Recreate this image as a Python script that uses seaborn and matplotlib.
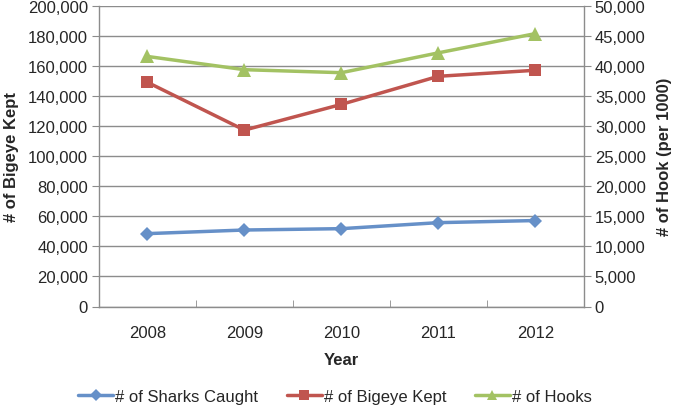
import matplotlib
matplotlib.use("Agg")
import matplotlib.pyplot as plt
import seaborn as sns
import pandas as pd
from matplotlib.ticker import FuncFormatter, MultipleLocator

# values
years = ["2008", "2009", "2010", "2011", "2012"]
sharks_caught = [48500, 50900, 51800, 55800, 57200]
bigeye_kept = [149200, 117400, 134500, 153200, 157200]
hooks = [41600, 39400, 38900, 42200, 45400]

BLUE = "#6690C8"
RED = "#C0554F"
GREEN = "#A3C263"
GRID = "#8C8C8C"

sns.set_style("white")
plt.rcParams["font.family"] = ["Liberation Sans", "DejaVu Sans"]

df = pd.DataFrame({"Year": years, "sharks": sharks_caught,
                   "bigeye": bigeye_kept, "hooks": hooks})

fig = plt.figure(figsize=(6.78, 4.10), dpi=100)
ax = fig.add_axes([0.146, 0.25, 0.715, 0.733])
ax2 = ax.twinx()

sns.lineplot(data=df, x="Year", y="sharks", ax=ax, color=BLUE, marker="D",
             markersize=7.5, linewidth=2.5, markeredgewidth=0, label="# of Sharks Caught")
sns.lineplot(data=df, x="Year", y="bigeye", ax=ax, color=RED, marker="s",
             markersize=9, linewidth=2.5, markeredgewidth=0, label="# of Bigeye Kept")
sns.lineplot(data=df, x="Year", y="hooks", ax=ax2, color=GREEN, marker="^",
             markersize=9.5, linewidth=2.5, markeredgewidth=0, label="# of Hooks")

fmt = FuncFormatter(lambda v, p: f"{int(v):,}")
ax.set_ylim(0, 200000)
ax.yaxis.set_major_locator(MultipleLocator(20000))
ax.yaxis.set_major_formatter(fmt)
ax2.set_ylim(0, 50000)
ax2.yaxis.set_major_locator(MultipleLocator(5000))
ax2.yaxis.set_major_formatter(fmt)
ax.set_xlim(-0.5, len(years) - 0.5)

ax.grid(axis="y", color=GRID, linewidth=1)
ax.set_axisbelow(True)
for a in (ax, ax2):
    for s in a.spines.values():
        s.set_visible(False)
ax.spines["left"].set_visible(True)
ax.spines["bottom"].set_visible(True)
ax2.spines["right"].set_visible(True)
for s in (ax.spines["left"], ax.spines["bottom"], ax2.spines["right"]):
    s.set_color(GRID)
    s.set_linewidth(1)

ax.tick_params(axis="y", length=5, color=GRID, labelsize=12, pad=3, left=True)
ax2.tick_params(axis="y", length=5, color=GRID, labelsize=12, pad=3, right=True)
ax.tick_params(axis="x", length=0, labelsize=12, pad=13)
# category boundary ticks pointing inward
ax.set_xticks([i + 0.5 for i in range(len(years) - 1)], minor=True)
ax.tick_params(axis="x", which="minor", direction="in", length=5, color=GRID, bottom=True)

ax.set_xlabel("Year", fontsize=12, fontweight="bold", labelpad=9)
ax.set_ylabel("# of Bigeye Kept", fontsize=12, fontweight="bold", labelpad=6)
ax2.set_ylabel("# of Hook (per 1000)", fontsize=12, fontweight="bold", labelpad=8)

h1, l1 = ax.get_legend_handles_labels()
h2, l2 = ax2.get_legend_handles_labels()
ax.get_legend().remove()
ax2.get_legend().remove()
fig.legend(h1 + h2, l1 + l2, loc="center", bbox_to_anchor=(0.494, 0.03), ncol=3,
           frameon=False, fontsize=12, handlelength=2.1, handletextpad=0.12,
           columnspacing=1.7, markerscale=0.75)

fig.savefig("out.png", dpi=100)
